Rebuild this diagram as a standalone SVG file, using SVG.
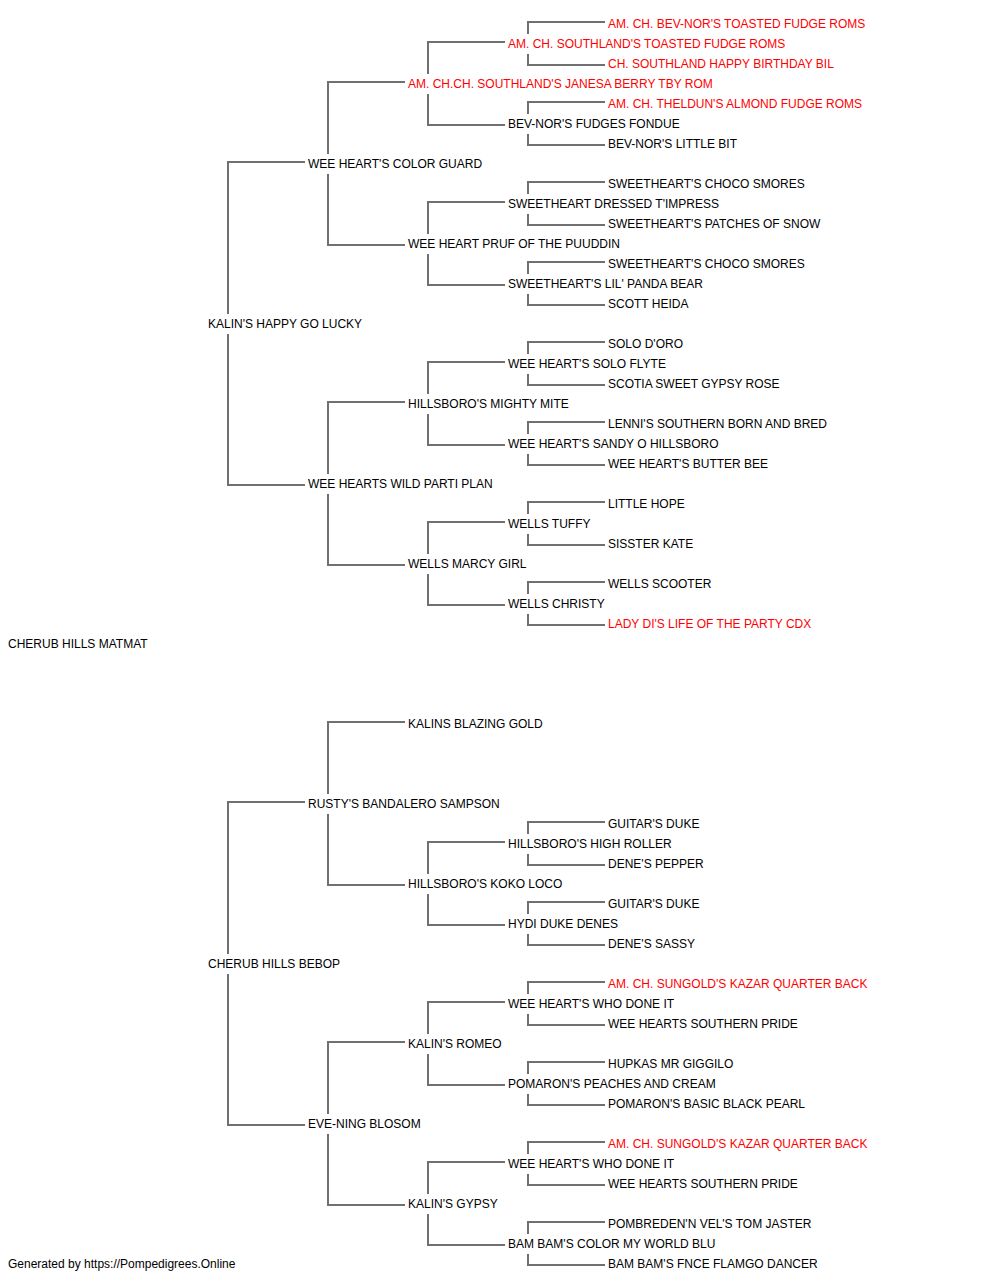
<svg xmlns="http://www.w3.org/2000/svg" width="1000" height="1280" viewBox="0 0 1000 1280">
<style>
text{font-family:"Liberation Sans",Arial,sans-serif;font-size:12px;fill:#000}
.r{fill:#ff0000}
.c{fill:none;stroke:#707070;stroke-width:2}
</style>
<rect width="1000" height="1280" fill="#fff"/>
<g id="connectors" class="c">
<path d="M305,162H228V314M228,334V485H305"/>
<path d="M305,802H228V954M228,974V1125H305"/>
<path d="M405,82H328V154M328,174V245H405"/>
<path d="M405,402H328V474M328,494V565H405"/>
<path d="M405,722H328V794M328,814V885H405"/>
<path d="M405,1042H328V1114M328,1134V1205H405"/>
<path d="M505,42H428V74M428,94V125H505"/>
<path d="M505,202H428V234M428,254V285H505"/>
<path d="M505,362H428V394M428,414V445H505"/>
<path d="M505,522H428V554M428,574V605H505"/>
<path d="M505,842H428V874M428,894V925H505"/>
<path d="M505,1002H428V1034M428,1054V1085H505"/>
<path d="M505,1162H428V1194M428,1214V1245H505"/>
<path d="M605,22H528V34M528,54V65H605"/>
<path d="M605,102H528V114M528,134V145H605"/>
<path d="M605,182H528V194M528,214V225H605"/>
<path d="M605,262H528V274M528,294V305H605"/>
<path d="M605,342H528V354M528,374V385H605"/>
<path d="M605,422H528V434M528,454V465H605"/>
<path d="M605,502H528V514M528,534V545H605"/>
<path d="M605,582H528V594M528,614V625H605"/>
<path d="M605,822H528V834M528,854V865H605"/>
<path d="M605,902H528V914M528,934V945H605"/>
<path d="M605,982H528V994M528,1014V1025H605"/>
<path d="M605,1062H528V1074M528,1094V1105H605"/>
<path d="M605,1142H528V1154M528,1174V1185H605"/>
<path d="M605,1222H528V1234M528,1254V1265H605"/>
</g>
<g id="n1"><text class="r" x="608" y="28">AM. CH. BEV-NOR'S TOASTED FUDGE ROMS</text></g>
<g id="n2"><text class="r" x="508" y="48">AM. CH. SOUTHLAND'S TOASTED FUDGE ROMS</text></g>
<g id="n3"><text class="r" x="608" y="68">CH. SOUTHLAND HAPPY BIRTHDAY BIL</text></g>
<g id="n4"><text class="r" x="408" y="88">AM. CH.CH. SOUTHLAND'S JANESA BERRY TBY ROM</text></g>
<g id="n5"><text class="r" x="608" y="108">AM. CH. THELDUN'S ALMOND FUDGE ROMS</text></g>
<g id="n6"><text x="508" y="128">BEV-NOR'S FUDGES FONDUE</text></g>
<g id="n7"><text x="608" y="148">BEV-NOR'S LITTLE BIT</text></g>
<g id="n8"><text x="308" y="168">WEE HEART'S COLOR GUARD</text></g>
<g id="n9"><text x="608" y="188">SWEETHEART'S CHOCO SMORES</text></g>
<g id="n10"><text x="508" y="208">SWEETHEART DRESSED T'IMPRESS</text></g>
<g id="n11"><text x="608" y="228">SWEETHEART'S PATCHES OF SNOW</text></g>
<g id="n12"><text x="408" y="248">WEE HEART PRUF OF THE PUUDDIN</text></g>
<g id="n13"><text x="608" y="268">SWEETHEART'S CHOCO SMORES</text></g>
<g id="n14"><text x="508" y="288">SWEETHEART'S LIL' PANDA BEAR</text></g>
<g id="n15"><text x="608" y="308">SCOTT HEIDA</text></g>
<g id="n16"><text x="208" y="328">KALIN'S HAPPY GO LUCKY</text></g>
<g id="n17"><text x="608" y="348">SOLO D'ORO</text></g>
<g id="n18"><text x="508" y="368">WEE HEART'S SOLO FLYTE</text></g>
<g id="n19"><text x="608" y="388">SCOTIA SWEET GYPSY ROSE</text></g>
<g id="n20"><text x="408" y="408">HILLSBORO'S MIGHTY MITE</text></g>
<g id="n21"><text x="608" y="428">LENNI'S SOUTHERN BORN AND BRED</text></g>
<g id="n22"><text x="508" y="448">WEE HEART'S SANDY O HILLSBORO</text></g>
<g id="n23"><text x="608" y="468">WEE HEART'S BUTTER BEE</text></g>
<g id="n24"><text x="308" y="488">WEE HEARTS WILD PARTI PLAN</text></g>
<g id="n25"><text x="608" y="508">LITTLE HOPE</text></g>
<g id="n26"><text x="508" y="528">WELLS TUFFY</text></g>
<g id="n27"><text x="608" y="548">SISSTER KATE</text></g>
<g id="n28"><text x="408" y="568">WELLS MARCY GIRL</text></g>
<g id="n29"><text x="608" y="588">WELLS SCOOTER</text></g>
<g id="n30"><text x="508" y="608">WELLS CHRISTY</text></g>
<g id="n31"><text class="r" x="608" y="628">LADY DI'S LIFE OF THE PARTY CDX</text></g>
<g id="n32"><text x="8" y="648">CHERUB HILLS MATMAT</text></g>
<g id="n36"><text x="408" y="728">KALINS BLAZING GOLD</text></g>
<g id="n40"><text x="308" y="808">RUSTY'S BANDALERO SAMPSON</text></g>
<g id="n41"><text x="608" y="828">GUITAR'S DUKE</text></g>
<g id="n42"><text x="508" y="848">HILLSBORO'S HIGH ROLLER</text></g>
<g id="n43"><text x="608" y="868">DENE'S PEPPER</text></g>
<g id="n44"><text x="408" y="888">HILLSBORO'S KOKO LOCO</text></g>
<g id="n45"><text x="608" y="908">GUITAR'S DUKE</text></g>
<g id="n46"><text x="508" y="928">HYDI DUKE DENES</text></g>
<g id="n47"><text x="608" y="948">DENE'S SASSY</text></g>
<g id="n48"><text x="208" y="968">CHERUB HILLS BEBOP</text></g>
<g id="n49"><text class="r" x="608" y="988">AM. CH. SUNGOLD'S KAZAR QUARTER BACK</text></g>
<g id="n50"><text x="508" y="1008">WEE HEART'S WHO DONE IT</text></g>
<g id="n51"><text x="608" y="1028">WEE HEARTS SOUTHERN PRIDE</text></g>
<g id="n52"><text x="408" y="1048">KALIN'S ROMEO</text></g>
<g id="n53"><text x="608" y="1068">HUPKAS MR GIGGILO</text></g>
<g id="n54"><text x="508" y="1088">POMARON'S PEACHES AND CREAM</text></g>
<g id="n55"><text x="608" y="1108">POMARON'S BASIC BLACK PEARL</text></g>
<g id="n56"><text x="308" y="1128">EVE-NING BLOSOM</text></g>
<g id="n57"><text class="r" x="608" y="1148">AM. CH. SUNGOLD'S KAZAR QUARTER BACK</text></g>
<g id="n58"><text x="508" y="1168">WEE HEART'S WHO DONE IT</text></g>
<g id="n59"><text x="608" y="1188">WEE HEARTS SOUTHERN PRIDE</text></g>
<g id="n60"><text x="408" y="1208">KALIN'S GYPSY</text></g>
<g id="n61"><text x="608" y="1228">POMBREDEN'N VEL'S TOM JASTER</text></g>
<g id="n62"><text x="508" y="1248">BAM BAM'S COLOR MY WORLD BLU</text></g>
<g id="n63"><text x="608" y="1268">BAM BAM'S FNCE FLAMGO DANCER</text></g>
<g id="footer"><text x="8" y="1268">Generated by https://Pompedigrees.Online</text></g>
</svg>
